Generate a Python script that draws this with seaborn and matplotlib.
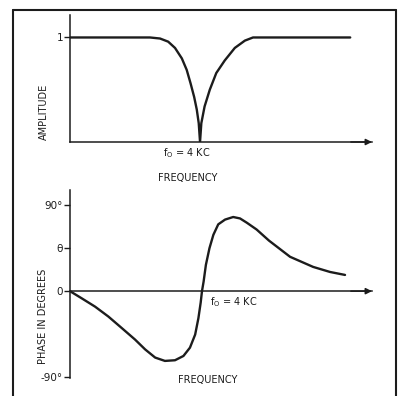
import matplotlib
matplotlib.use("Agg")
import matplotlib.pyplot as plt
from matplotlib.lines import Line2D
import seaborn as sns
import pandas as pd

# Amplitude response of the notch filter (frequency in kc, f0 = 4 kc)
amp_freq = [0.0, 2.46, 2.77, 3.02, 3.23, 3.44, 3.59, 3.71, 3.82, 3.90, 3.96, 4.0,
            4.04, 4.14, 4.30, 4.50, 4.76, 5.07, 5.38, 5.63, 8.62]
amp_vals = [1.0, 1.0, 0.99, 0.96, 0.90, 0.80, 0.69, 0.56, 0.43, 0.31, 0.18, 0.0,
            0.18, 0.34, 0.50, 0.66, 0.78, 0.90, 0.97, 1.0, 1.0]

# Phase response in degrees
ph_freq = [0.0, 0.36, 0.77, 1.18, 1.59, 2.0, 2.31, 2.62, 2.92, 3.23, 3.49,
           3.69, 3.85, 3.95, 4.02, 4.06, 4.11, 4.18, 4.29, 4.41, 4.56, 4.77,
           5.02, 5.23, 5.44, 5.74, 6.12, 6.77, 7.48, 8.0, 8.46]
ph_vals = [0, -7.5, -16.2, -26.6, -38.6, -50.7, -61.0, -69.6, -73.1, -72.4, -67.9,
           -59.2, -45.5, -28.3, -12, 0, 10, 27.5, 45, 59, 70, 75,
           77.7, 76.2, 71.7, 64.6, 53, 36, 25.4, 20.1, 17]

amp_ticks = [1]
amp_tick_labels = ["1"]
ph_ticks = [90, 45, 0, -90]
ph_tick_labels = ["90°", "θ", "0", "-90°"]

amp_df = pd.DataFrame({"freq": amp_freq, "amp": amp_vals})
ph_df = pd.DataFrame({"freq": ph_freq, "phase": ph_vals})

sns.set_style("white")
plt.rcParams["font.family"] = ["DejaVu Sans"]
ink = "#1c1c1c"

W, H = 398, 396
fig = plt.figure(figsize=(W / 100, H / 100), dpi=100)
fig.patch.set_facecolor("white")


def px_axes(x0, y0, x1, y1):
    return fig.add_axes([x0 / W, 1 - y1 / H, (x1 - x0) / W, (y1 - y0) / H])


def px_text(x, y, s, **kw):
    fig.text(x / W, 1 - y / H, s, ha="center", va="center", color=ink,
             fontsize=7, **kw)


# outer frame of the figure
for xs, ys in [([13, 13], [10, 400]), ([13, 396], [10, 10]), ([396, 396], [10, 400])]:
    fig.add_artist(Line2D([x / W for x in xs], [1 - y / H for y in ys],
                          color=ink, lw=1.5, transform=fig.transFigure))

ax1 = px_axes(70, 15, 372, 142)
ax2 = px_axes(70, 190, 372, 378)

sns.lineplot(data=amp_df, x="freq", y="amp", ax=ax1, color=ink, lw=1.7)
sns.lineplot(data=ph_df, x="freq", y="phase", ax=ax2, color=ink, lw=1.7)

ax1.set_xlim(0, 9.29)
ax1.set_ylim(0, 1.215)
ax2.set_xlim(0, 9.29)
ax2.set_ylim(-91, 106)
ax2.spines["bottom"].set_position(("data", 0))

for ax in (ax1, ax2):
    ax.set_facecolor("none")
    ax.spines["top"].set_visible(False)
    ax.spines["right"].set_visible(False)
    for s in ("left", "bottom"):
        ax.spines[s].set_color(ink)
        ax.spines[s].set_linewidth(1.1)
    ax.set_xlabel("")
    ax.set_ylabel("")
    ax.set_xticks([])
    ax.tick_params(axis="y", direction="out", length=4, width=1, color=ink,
                   pad=1, labelsize=7.5, labelcolor=ink, left=True)
    ax.annotate("", xy=(1.0, 0), xytext=(0.93, 0),
                xycoords=("axes fraction", "data"),
                arrowprops=dict(arrowstyle="-|>", color=ink, lw=1.1,
                                mutation_scale=9, shrinkA=0, shrinkB=0))

ax1.set_yticks(amp_ticks)
ax1.set_yticklabels(amp_tick_labels)
ax2.set_yticks(ph_ticks)
ax2.set_yticklabels(ph_tick_labels)

px_text(187, 153, r"$\mathregular{f_O}$ = 4 KC")
px_text(188, 178, "FREQUENCY")
px_text(44, 112, "AMPLITUDE", rotation=90)
px_text(234, 302, r"$\mathregular{f_O}$ = 4 KC")
px_text(208, 380, "FREQUENCY")
px_text(43, 316, "PHASE IN DEGREES", rotation=90)

fig.savefig("out.png", dpi=100, facecolor="white")
